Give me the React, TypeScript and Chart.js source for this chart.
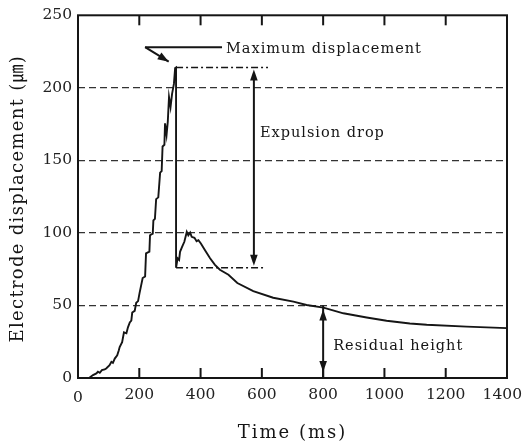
import React, { useEffect, useRef } from 'react';
import { Chart, registerables } from 'chart.js';

Chart.register(...registerables);

// Electrode displacement during a weld, sampled from the trace
const timeMs = [
  36, 49, 60, 65, 71, 78, 87, 92, 103, 109, 114, 120, 128, 133, 136, 144, 150, 158, 163, 169,
  174, 177, 185, 190, 196, 201, 211, 219, 222, 233, 235, 244, 246, 251, 255, 262, 268, 273, 276, 282,
  284, 289, 293, 297, 302, 307, 313, 317, 320, 320, 325, 330, 333, 340, 347, 355, 360, 366, 371, 380,
  387, 393, 401, 414, 431, 447, 463, 491, 520, 572, 637, 703, 746, 801, 866, 942, 1007, 1083, 1138, 1268,
  1400,
];
const displacementUm = [
  0, 2, 3.2, 4.3, 3.6, 5.4, 5.9, 6.6, 8.8, 11.1, 10.4, 13.4, 15.6, 19, 21.3, 24.7, 31.5, 30.8, 34.9, 38.3,
  39.5, 45.1, 46.3, 51.9, 53, 58.7, 68.9, 70, 85.9, 87.1, 98.4, 99.5, 108.6, 109.7, 123.3, 124.5, 141.5, 142.6, 159.6, 160.8,
  175.5, 167.6, 176.6, 193.7, 186.9, 195.9, 202.7, 213.6, 214, 76, 82.5, 81.4, 87, 90.5, 93.9, 100.7, 98.4, 100.2, 97.3, 96.6,
  94.3, 95, 92.7, 88.2, 82.5, 78, 74.6, 71.2, 65.5, 59.9, 55.3, 52.6, 50.3, 48.5, 44.6, 41.7, 39.5, 37.6, 36.7, 35.4,
  34.4,
];

const xTicks = [0, 200, 400, 600, 800, 1000, 1200, 1400];
const yTicks = [0, 50, 100, 150, 200, 250];

// Key values marked on the plot
const peakTime = 320;
const peakValue = 214;
const dropValue = 76;
const guideEndTime = 620;
const dropArrowTime = 574;
const residualTime = 800;
const residualValue = 50;
const calloutStart = { t: 219, v: 228 };
const calloutTextTime = 470;
const calloutTip = { t: 296, v: 218 };

const SERIF = '"DejaVu Serif", "Liberation Serif", "Noto Sans CJK KR", serif';
const INK = '#151515';

function arrowHead(ctx: CanvasRenderingContext2D, x1: number, y1: number, x2: number, y2: number, len = 11, half = 3.8) {
  const a = Math.atan2(y2 - y1, x2 - x1);
  const bx = x2 - len * Math.cos(a);
  const by = y2 - len * Math.sin(a);
  ctx.beginPath();
  ctx.moveTo(x2, y2);
  ctx.lineTo(bx + half * Math.sin(a), by - half * Math.cos(a));
  ctx.lineTo(bx - half * Math.sin(a), by + half * Math.cos(a));
  ctx.closePath();
  ctx.fill();
}

function line(ctx: CanvasRenderingContext2D, x1: number, y1: number, x2: number, y2: number) {
  ctx.beginPath();
  ctx.moveTo(x1, y1);
  ctx.lineTo(x2, y2);
  ctx.stroke();
}

function text(ctx: CanvasRenderingContext2D, s: string, x: number, y: number, size: number, spacing: number, align: CanvasTextAlign = 'left') {
  ctx.font = `${size}px ${SERIF}`;
  (ctx as any).letterSpacing = `${spacing}px`;
  ctx.textAlign = align;
  ctx.textBaseline = 'middle';
  ctx.fillText(s, x, y);
  (ctx as any).letterSpacing = '0px';
}

const decorations = {
  id: 'decorations',
  afterDraw(chart: Chart) {
    const { ctx, chartArea: a } = chart;
    const xs = chart.scales.x;
    const ys = chart.scales.y;
    const px = (t: number) => xs.getPixelForValue(t);
    const py = (v: number) => ys.getPixelForValue(v);
    ctx.save();
    ctx.strokeStyle = INK;
    ctx.fillStyle = INK;

    // frame
    ctx.lineWidth = 2;
    ctx.strokeRect(a.left, a.top, a.right - a.left, a.bottom - a.top);

    // inward tick marks on top and bottom edges
    for (const t of xTicks) {
      if (t === xTicks[0] || t === xTicks[xTicks.length - 1]) continue;
      line(ctx, px(t), a.bottom, px(t), a.bottom - 10);
      line(ctx, px(t), a.top, px(t), a.top + 10);
    }

    // x tick labels
    ctx.fillStyle = '#222';
    ctx.font = `15.5px ${SERIF}`;
    for (const t of xTicks) {
      const s = String(t);
      const w = ctx.measureText(s).width;
      const cx = Math.min(px(t), chart.width - w / 2 - 3);
      text(ctx, s, cx, a.bottom + (t === 0 ? 20 : 17), 15.5, 0, 'center');
    }

    // axis titles
    ctx.fillStyle = INK;
    text(ctx, 'Time (ms)', (a.left + a.right) / 2, 433, 18, 2, 'center');
    ctx.save();
    ctx.translate(18, (a.top + a.bottom) / 2 + 2);
    ctx.rotate(-Math.PI / 2);
    text(ctx, 'Electrode displacement (㎛)', 0, 0, 18, 1.3, 'center');
    ctx.restore();

    // dash-dot guides at peak and post-expulsion level
    ctx.lineWidth = 1.6;
    ctx.setLineDash([7, 3, 2, 3]);
    line(ctx, px(peakTime), py(peakValue), px(guideEndTime), py(peakValue));
    line(ctx, px(peakTime), py(dropValue), px(guideEndTime - 10), py(dropValue));
    ctx.setLineDash([]);

    // expulsion drop double arrow
    ctx.lineWidth = 2;
    const ax = px(dropArrowTime);
    const topY = py(peakValue) + 2;
    const botY = py(dropValue) - 2;
    line(ctx, ax, topY + 4, ax, botY - 4);
    arrowHead(ctx, ax, topY + 20, ax, topY);
    arrowHead(ctx, ax, botY - 20, ax, botY);

    // residual height double arrow
    const rx = px(residualTime);
    const rTop = py(residualValue) + 4;
    const rBot = py(0) - 6;
    line(ctx, rx, py(residualValue), rx, py(0));
    arrowHead(ctx, rx, rTop + 20, rx, rTop);
    arrowHead(ctx, rx, rBot - 20, rx, rBot);

    // callout for maximum displacement
    ctx.lineWidth = 2;
    line(ctx, px(calloutStart.t), py(calloutStart.v), px(calloutTextTime), py(calloutStart.v));
    line(ctx, px(calloutStart.t), py(calloutStart.v), px(calloutTip.t), py(calloutTip.v));
    arrowHead(ctx, px(calloutStart.t), py(calloutStart.v), px(calloutTip.t), py(calloutTip.v), 11, 4);

    // labels
    text(ctx, 'Maximum displacement', px(calloutTextTime) + 4, py(calloutStart.v) + 2, 14.5, 1);
    text(ctx, 'Expulsion drop', ax + 6, 133, 14.5, 1);
    text(ctx, 'Residual height', rx + 10, 346, 14.5, 1);

    ctx.restore();
  },
};

export default function App() {
  const canvasRef = useRef<HTMLCanvasElement | null>(null);

  useEffect(() => {
    const canvas = canvasRef.current;
    if (!canvas) return;
    const points = timeMs.map((t, i) => ({ x: t, y: displacementUm[i] }));
    const chart = new Chart(canvas, {
      type: 'line',
      data: {
        datasets: [
          {
            data: points,
            borderColor: INK,
            borderWidth: 1.9,
            pointRadius: 0,
            tension: 0,
            fill: false,
          },
        ],
      },
      options: {
        responsive: false,
        animation: false,
        layout: { padding: { top: 11, right: 18, left: 0, bottom: 0 } },
        plugins: { legend: { display: false }, tooltip: { enabled: false }, title: { display: false } },
        scales: {
          x: {
            type: 'linear',
            min: xTicks[0],
            max: xTicks[xTicks.length - 1],
            ticks: { display: false },
            grid: { display: false },
            border: { display: false },
            afterFit: (scale: any) => {
              scale.height = 68;
            },
          },
          y: {
            type: 'linear',
            min: yTicks[0],
            max: yTicks[yTicks.length - 1],
            afterBuildTicks: (scale: any) => {
              scale.ticks = yTicks.map((v) => ({ value: v }));
            },
            ticks: {
              color: '#222',
              padding: 6,
              font: { family: SERIF, size: 15.5 },
            },
            grid: {
              drawTicks: false,
              lineWidth: 1.3,
              color: (c: any) =>
                c.tick && (c.tick.value === yTicks[0] || c.tick.value === yTicks[yTicks.length - 1])
                  ? 'rgba(0,0,0,0)'
                  : '#333',
            },
            border: { display: false, dash: [7, 4] },
            afterFit: (scale: any) => {
              scale.width = 78;
            },
          },
        },
      },
      plugins: [decorations],
    });
    return () => chart.destroy();
  }, []);

  return (
    <div style={{ position: 'absolute', left: 0, top: 0, width: 525, height: 446, background: '#fff' }}>
      <canvas ref={canvasRef} width={525} height={446} style={{ display: 'block' }} />
    </div>
  );
}
